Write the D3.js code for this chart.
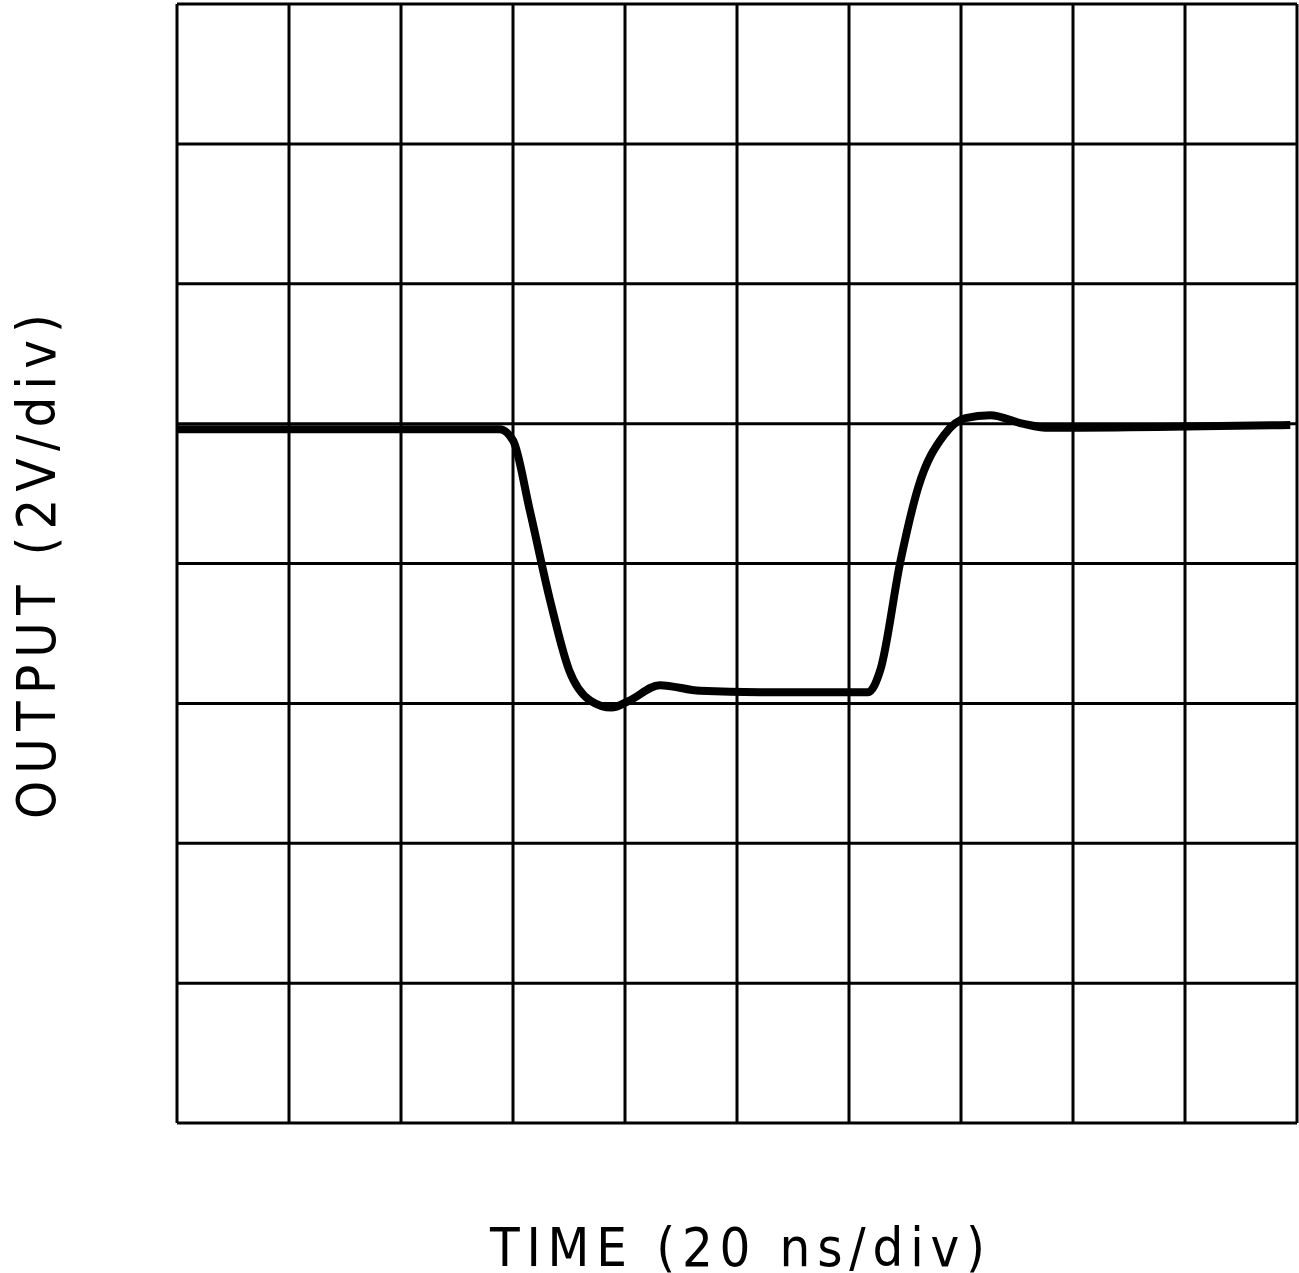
<!DOCTYPE html>
<html><head><meta charset="utf-8">
<script src="https://cdn.jsdelivr.net/npm/d3@7"></script>
<style>body{margin:0;background:#fff}</style>
</head><body><div id="chart"></div>
<script>
// trace in divisions: time (x) and output (y, from bottom)
const timeDiv = [0, 2.88, 3.0, 3.15, 3.33, 3.5, 3.69, 3.88, 4.04, 4.31, 4.67, 5.2, 6.17, 6.28, 6.46, 6.62, 6.85, 7.04, 7.26, 7.55, 7.79, 9.94];
const outDiv  = [4.96, 4.96, 4.88, 4.38, 3.74, 3.24, 3.02, 2.97, 3.02, 3.13, 3.09, 3.08, 3.08, 3.24, 4.02, 4.55, 4.92, 5.04, 5.06, 5.0, 4.97, 4.99];
const xLabel = "TIME (20 ns/div)";
const yLabel = "OUTPUT (2V/div)";

const margin = {top: 4, left: 177};
const height = 1119;

const svg = d3.select("#chart").append("svg")
  .attr("width", 1299).attr("height", 1273)
  .append("g").attr("transform", `translate(${margin.left},${margin.top})`);

const x = d3.scaleLinear().domain([0, 10]).range([0, 1120]);
const y = d3.scaleLinear().domain([0, 8]).range([height, 0]);

// grid
svg.selectAll(".vx").data(d3.range(0, 11)).join("line")
  .attr("x1", d => x(d)).attr("x2", d => x(d))
  .attr("y1", 0).attr("y2", height)
  .attr("stroke", "#000").attr("stroke-width", 3);
svg.selectAll(".hy").data(d3.range(0, 9)).join("line")
  .attr("y1", d => y(d)).attr("y2", d => y(d))
  .attr("x1", 0).attr("x2", x(10))
  .attr("stroke", "#000").attr("stroke-width", 3);

// trace
const pts = timeDiv.map((t, i) => [t, outDiv[i]]);
svg.append("path")
  .datum(pts)
  .attr("d", d3.line().x(d => x(d[0])).y(d => y(d[1])).curve(d3.curveMonotoneX))
  .attr("fill", "none").attr("stroke", "#000").attr("stroke-width", 8)
  .attr("stroke-linejoin", "round");

// labels
svg.append("text")
  .attr("x", 313).attr("y", 1262)
  .attr("textLength", 495).attr("lengthAdjust", "spacing")
  .style("font-family", "DejaVu Sans Condensed, DejaVu Sans, sans-serif")
  .style("font-size", "54px")
  .text(xLabel);

svg.append("text")
  .attr("transform", `translate(-122,815) rotate(-90)`)
  .attr("textLength", 505).attr("lengthAdjust", "spacing")
  .style("font-family", "DejaVu Sans Condensed, DejaVu Sans, sans-serif")
  .style("font-size", "54px")
  .text(yLabel);
</script></body></html>
